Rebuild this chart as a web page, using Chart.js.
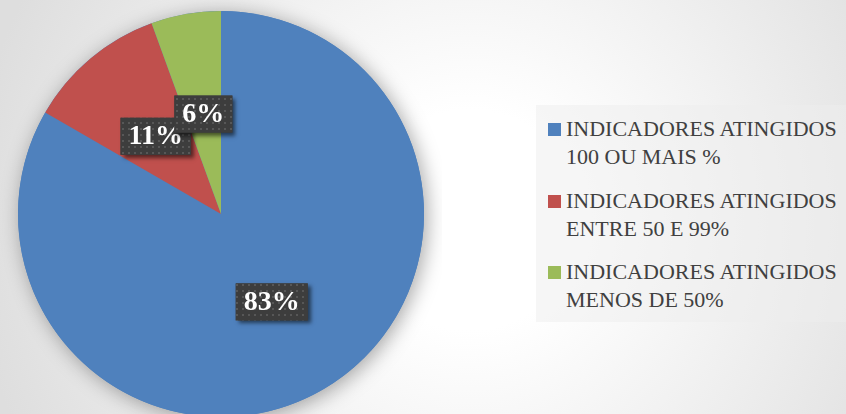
<!DOCTYPE html>
<html>
<head>
<meta charset="utf-8">
<script src="https://cdn.jsdelivr.net/npm/chart.js@4.4.0/dist/chart.umd.min.js"></script>
<style>
  html, body {
    margin: 0;
    padding: 0;
    width: 846px;
    height: 414px;
    overflow: hidden;
  }
  body {
    position: relative;
    background: radial-gradient(circle at 470px 220px, #ffffff 0px, #ffffff 110px, #dedede 500px);
  }
  #chartBox {
    position: absolute;
    left: 0;
    top: 0;
    width: 442px;
    height: 432px;
  }
  #legendBox {
    position: absolute;
    left: 536px;
    top: 105px;
    width: 310px;
    height: 217px;
    background: rgba(238, 238, 238, 0.5);
  }
  .legendItem {
    position: absolute;
    left: 12px;
    font-family: "Liberation Serif", "DejaVu Serif", serif;
    font-size: 22px;
    line-height: 28px;
    color: #404040;
    white-space: nowrap;
  }
  .legendItem .swatch {
    position: absolute;
    left: 0;
    top: 8px;
    width: 13px;
    height: 13px;
  }
  .legendItem .txt {
    position: absolute;
    left: 18px;
    top: 0;
  }
</style>
</head>
<body>
<div id="chartBox"><canvas id="pieChart"></canvas></div>
<div id="legendBox"></div>

<script>
const categories = [
    ['INDICADORES ATINGIDOS', '100 OU MAIS %'],
    ['INDICADORES ATINGIDOS', 'ENTRE 50 E 99%'],
    ['INDICADORES ATINGIDOS', 'MENOS DE 50%']
];
const indicatorCounts = [15, 2, 1];
const sliceColors = ['#4F81BD', '#C0504D', '#9BBB59'];

document.addEventListener("DOMContentLoaded", function() {
    // Legend (html)
    const legendBox = document.getElementById('legendBox');
    categories.forEach(function(lines, i) {
        const item = document.createElement('div');
        item.className = 'legendItem';
        item.style.top = (10 + i * 71.7) + 'px';
        const sw = document.createElement('div');
        sw.className = 'swatch';
        sw.style.background = sliceColors[i];
        const txt = document.createElement('div');
        txt.className = 'txt';
        txt.innerHTML = lines.join('<br>');
        item.appendChild(sw);
        item.appendChild(txt);
        legendBox.appendChild(item);
    });

    // dotted pattern for label boxes
    const patCanvas = document.createElement('canvas');
    patCanvas.width = 6;
    patCanvas.height = 6;
    const pctx = patCanvas.getContext('2d');
    pctx.fillStyle = '#3d3d3d';
    pctx.fillRect(0, 0, 6, 6);
    pctx.fillStyle = '#575757';
    pctx.fillRect(2, 2, 2, 2);

    const pieShadow = {
        id: 'pieShadow',
        beforeDatasetsDraw(chart) {
            const arc = chart.getDatasetMeta(0).data[0];
            if (!arc) return;
            const ctx = chart.ctx;
            ctx.save();
            ctx.shadowColor = 'rgba(0,0,0,0.35)';
            ctx.shadowBlur = 20;
            ctx.shadowOffsetX = 3;
            ctx.shadowOffsetY = 3;
            ctx.fillStyle = sliceColors[0];
            ctx.beginPath();
            ctx.arc(arc.x, arc.y, arc.outerRadius, 0, Math.PI * 2);
            ctx.fill();
            ctx.restore();
        }
    };

    const boxLabels = {
        id: 'boxLabels',
        afterDatasetsDraw(chart) {
            const ctx = chart.ctx;
            const meta = chart.getDatasetMeta(0);
            const total = indicatorCounts.reduce((a, b) => a + b, 0);
            const pattern = ctx.createPattern(patCanvas, 'repeat');
            ctx.save();
            ctx.font = "bold 28px 'Liberation Serif'";
            meta.data.forEach(function(arc, i) {
                const pos = arc.tooltipPosition();
                const text = Math.round(indicatorCounts[i] / total * 100) + '%';
                const w = ctx.measureText(text).width + 16;
                const h = 37;
                const x = pos.x - w / 2;
                const y = pos.y - h / 2;
                ctx.save();
                ctx.shadowColor = 'rgba(0,0,0,0.55)';
                ctx.shadowBlur = 4;
                ctx.shadowOffsetX = 3;
                ctx.shadowOffsetY = 3;
                ctx.fillStyle = '#3d3d3d';
                ctx.fillRect(x, y, w, h);
                ctx.restore();
                ctx.fillStyle = pattern;
                ctx.fillRect(x, y, w, h);
                ctx.fillStyle = '#ffffff';
                ctx.textAlign = 'center';
                ctx.textBaseline = 'middle';
                ctx.fillText(text, pos.x, pos.y + 1);
            });
            ctx.restore();
        }
    };

    const ctxPie = document.getElementById('pieChart').getContext('2d');

    new Chart(ctxPie, {
        type: 'pie',
        data: {
            labels: categories,
            datasets: [{
                data: indicatorCounts,
                backgroundColor: sliceColors,
                borderWidth: 0,
                hoverOffset: 0
            }]
        },
        options: {
            responsive: true,
            maintainAspectRatio: false,
            animation: false,
            events: [],
            layout: {
                padding: { left: 18, right: 18, top: 11, bottom: 15 }
            },
            plugins: {
                legend: { display: false },
                tooltip: { enabled: false }
            }
        },
        plugins: [pieShadow, boxLabels]
    });
});
</script>
</body>
</html>
